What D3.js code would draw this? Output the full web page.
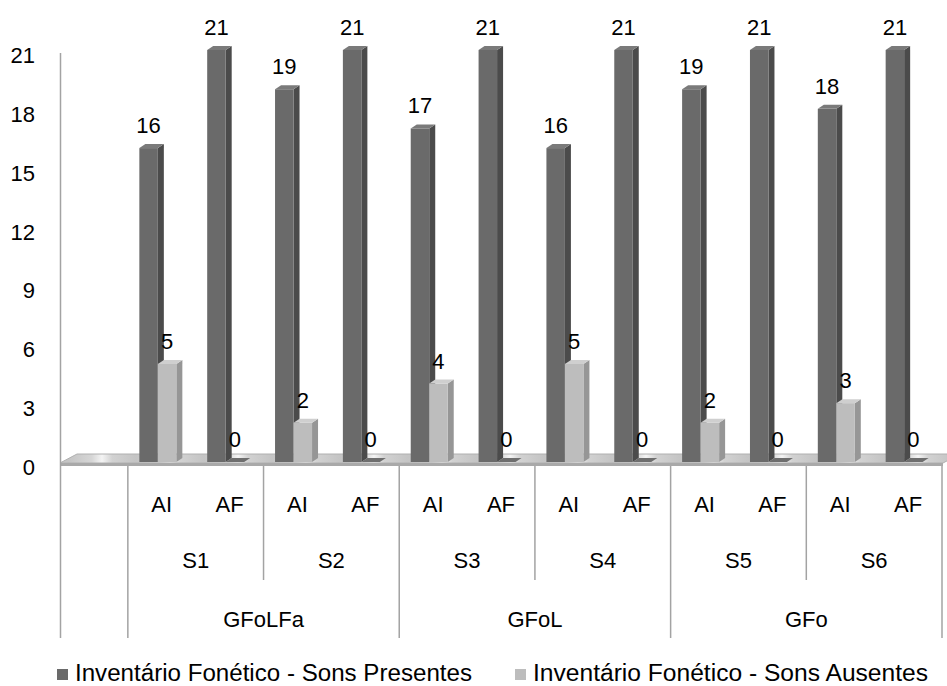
<!DOCTYPE html>
<html><head><meta charset="utf-8">
<script src="https://cdn.jsdelivr.net/npm/d3@7"></script>
<style>body{margin:0;background:#fff}svg{display:block}text{font-family:Arial,"Liberation Sans",sans-serif;fill:#000}</style>
</head><body>
<svg id="c" width="947" height="686"></svg>
<script>
const groups = ["GFoLFa", "GFoL", "GFo"];
const subjects = ["S1", "S2", "S3", "S4", "S5", "S6"];
const moments = ["AI", "AF"];
const presentes = [16, 21, 19, 21, 17, 21, 16, 21, 19, 21, 18, 21];
const ausentes = [5, 0, 2, 0, 4, 0, 5, 0, 2, 0, 3, 0];
const yTicks = [0, 3, 6, 9, 12, 15, 18, 21];
const seriesNames = ["Inventário Fonético - Sons Presentes", "Inventário Fonético - Sons Ausentes"];

const svg = d3.select("#c");
const nCat = 1 + presentes.length;
const x = d3.scaleBand().domain(d3.range(nCat)).range([60, 942]).padding(0);
const y = d3.scaleLinear().domain([0, 21]).range([462, 50]);
const lineCol = "#a3a3a3";
const dx = 6, dy = 4, bw = 18.5, off = 11.5;

// floor
const floor = svg.append("g");
const gradId = "fl";
const defs = svg.append("defs");
const pat = defs.append("linearGradient").attr("id", gradId).attr("spreadMethod", "repeat")
  .attr("gradientUnits", "userSpaceOnUse").attr("x1", 0).attr("x2", 68).attr("y1", 0).attr("y2", 0);
[[0, "#c4c4c4"], [0.35, "#d6d6d6"], [0.5, "#f4f4f4"], [0.65, "#d2d2d2"], [1, "#c4c4c4"]].forEach(s => pat.append("stop").attr("offset", s[0]).attr("stop-color", s[1]));
floor.append("path").attr("d", `M60,463 L943,463 L960,454 L77,454 Z`).attr("fill", `url(#${gradId})`).attr("stroke", "#b0b0b0").attr("stroke-width", 1);
floor.append("rect").attr("x", 60).attr("y", 463).attr("width", 883).attr("height", 3).attr("fill", "#a9a9a9");

// axis line
svg.append("line").attr("x1", 60.5).attr("x2", 60.5).attr("y1", 53).attr("y2", 638).attr("stroke", lineCol).attr("stroke-width", 1.5);

// y tick labels
svg.append("g").selectAll("text").data(yTicks).join("text")
  .attr("x", 35).attr("y", d => y(d) + 13).attr("text-anchor", "end").attr("font-size", 22).text(d => d);

// bars
function bar3d(g, x0, v, front, side, top) {
  const yt = y(v), yb = y(0);
  if (v > 0) {
    g.append("path").attr("d", `M${x0 + bw},${yt} L${x0 + bw + dx},${yt - dy} L${x0 + bw + dx},${yb - dy} L${x0 + bw},${yb} Z`).attr("fill", side);
    g.append("rect").attr("x", x0).attr("y", yt).attr("width", bw).attr("height", yb - yt).attr("fill", front);
  }
  g.append("path").attr("d", `M${x0},${yt} L${x0 + dx},${yt - dy} L${x0 + bw + dx},${yt - dy} L${x0 + bw},${yt} Z`).attr("fill", top);
}
const barsG = svg.append("g");
presentes.forEach((v, i) => {
  const x0 = x(i + 1) + off;
  bar3d(barsG, x0, v, "#6a6a6a", "#4b4b4b", "#7a7a7a");
  bar3d(barsG, x0 + bw, ausentes[i], "#bdbdbd", "#969696", ausentes[i] > 0 ? "#cfcfcf" : "#6e6e6e");
});
// value labels
const lab = svg.append("g").attr("font-size", 22).attr("text-anchor", "middle");
presentes.forEach((v, i) => {
  const x0 = x(i + 1) + off;
  lab.append("text").attr("x", x0 + bw / 2).attr("y", y(v) - 15).text(v);
  lab.append("text").attr("x", x0 + bw * 1.5).attr("y", y(ausentes[i]) - 15).text(ausentes[i]);
});

// category lines
const cl = svg.append("g").attr("stroke", lineCol).attr("stroke-width", 1.5);
const groupBounds = [1, 5, 9, 13];
groupBounds.forEach(k => { const xx = k < nCat ? x(k) : x.range()[1]; cl.append("line").attr("x1", xx).attr("x2", xx).attr("y1", 466).attr("y2", 638); });
[3, 7, 11].forEach(k => cl.append("line").attr("x1", x(k)).attr("x2", x(k)).attr("y1", 466).attr("y2", 580));

// category labels
const cg = svg.append("g").attr("font-size", 22).attr("text-anchor", "middle");
presentes.forEach((v, i) => cg.append("text").attr("x", x(i + 1) + x.bandwidth() / 2).attr("y", 512).text(moments[i % 2]));
subjects.forEach((s, j) => cg.append("text").attr("x", x(1 + j * 2) + x.bandwidth()).attr("y", 568).text(s));
groups.forEach((g, j) => cg.append("text").attr("x", x(1 + j * 4) + x.bandwidth() * 2).attr("y", 627).text(g));

// legend
const leg = svg.append("g");
const lx = [57, 515], lw = [397, 395], cols = ["#6a6a6a", "#bdbdbd"];
seriesNames.forEach((n, i) => {
  leg.append("rect").attr("x", lx[i]).attr("y", 669).attr("width", 11).attr("height", 11).attr("fill", cols[i]);
  leg.append("text").attr("x", lx[i] + 18).attr("y", 681).attr("font-size", 23).attr("textLength", lw[i]).attr("lengthAdjust", "spacingAndGlyphs").text(n);
});
</script>
</body></html>
